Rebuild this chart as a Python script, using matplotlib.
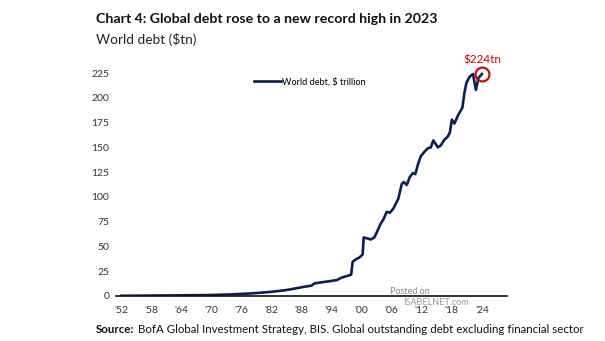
import matplotlib
matplotlib.use("Agg")
import matplotlib.pyplot as plt

# World debt, $ trillion (year, value)
years = [1952, 1955, 1960, 1965, 1970, 1974, 1978, 1982, 1985, 1988, 1990,
         1990.6, 1993, 1995, 1996, 1997.9, 1998.2, 1999.0, 1999.6, 2000.2,
         2000.4, 2001.2, 2001.8, 2002.5, 2003.0, 2003.7, 2004.4, 2005.0,
         2005.6, 2006.3, 2007.3, 2008.0, 2008.4, 2009.0, 2009.6, 2010.2,
         2010.7, 2011.3, 2011.8, 2012.6, 2013.2, 2013.8, 2014.3, 2015.2,
         2015.8, 2016.4, 2017.2, 2017.6, 2018.0, 2018.5, 2019.3, 2020.1,
         2020.5, 2020.9, 2021.5, 2022.2, 2022.8, 2023.3, 2024.0]
debt = [0.2, 0.3, 0.5, 0.7, 1.0, 1.6, 2.6, 4.2, 6.0, 8.8, 10.5,
        12.8, 14.5, 16.0, 18.5, 21.5, 34.5, 37.5, 39, 42,
        59, 58, 57, 59, 64, 72, 78, 85,
        84, 88, 98, 113, 115, 112, 120, 124,
        123, 134, 141, 146, 149, 150, 157, 150,
        152, 157, 161, 165, 178, 174, 183, 190,
        205, 215, 221, 224, 208, 220, 224]

tick_years = list(range(1952, 2025, 6))
tick_labels = ["'%02d" % (y % 100) for y in tick_years]
y_ticks = [0, 25, 50, 75, 100, 125, 150, 175, 200, 225]

plt.rcParams["font.family"] = ["Lato", "DejaVu Sans"]

navy = "#0b1f56"
red = "#d00000"

fig = plt.figure(figsize=(6.05, 3.41), dpi=100)
ax = fig.add_axes([0.192, 0.132, 0.646, 0.6975])

ax.plot(years, debt, color=navy, lw=1.9, label="World debt, $ trillion")
ax.set_xlim(1951, 2029)
ax.set_ylim(0, 240)

ax.set_xticks(tick_years)
ax.set_xticklabels(tick_labels)
ax.set_yticks(y_ticks)
ax.tick_params(axis="both", length=0, labelsize=7.5, colors="#333333")
ax.tick_params(axis="x", pad=7)
ax.tick_params(axis="y", pad=5)
for s in ["top", "right", "left"]:
    ax.spines[s].set_visible(False)
ax.spines["bottom"].set_color("#111111")
ax.spines["bottom"].set_linewidth(1.2)

leg = ax.legend(loc="center left", bbox_to_anchor=(0.353, 0.9), frameon=False,
                fontsize=6.6, handlelength=2.9, handletextpad=0.1,
                borderpad=0, borderaxespad=0)

# latest value marker
ax.plot(years[-1], debt[-1], "o", ms=10, mfc="none", mec=red, mew=1.5)
ax.annotate("$%dtn" % debt[-1], (years[-1], debt[-1]), xytext=(0, 10),
            textcoords="offset points", ha="center", va="center",
            color=red, fontsize=8.5)

fig.text(0.159, 0.945, "Chart 4: Global debt rose to a new record high in 2023",
         fontsize=10.2, fontweight="bold", color="#111111", va="center")
fig.text(0.159, 0.885, "World debt ($tn)", fontsize=9.8, color="#222222",
         va="center")

src = fig.text(0.159, 0.035, "Source:", fontsize=8.3, fontweight="bold",
               color="#111111", va="center")
ax.annotate(" BofA Global Investment Strategy, BIS. Global outstanding debt "
            "excluding financial sector", xy=(1, 0.5), xycoords=src,
            va="center", ha="left", fontsize=8.3, color="#111111")

fig.text(0.645, 0.144, "Posted on", fontsize=6.5, color="#888888", va="center")
fig.text(0.666, 0.112, "ISABELNET.com", fontsize=6.5, color="#999999",
         va="center")

fig.savefig("out.png", dpi=100)
